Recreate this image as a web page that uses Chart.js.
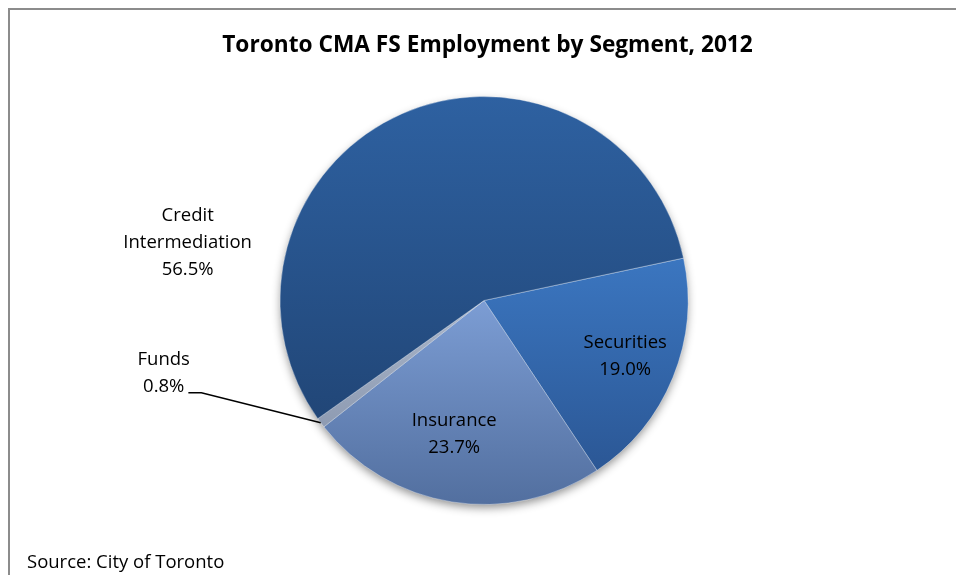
<!DOCTYPE html>
<html>
<head>
<meta charset="utf-8">
<script src="https://cdn.jsdelivr.net/npm/chart.js@4/dist/chart.umd.min.js"></script>
<style>
  html, body { margin: 0; padding: 0; background: #fff; }
  #wrap { position: relative; width: 956px; height: 575px; }
</style>
</head>
<body>
<div id="wrap"><canvas id="fsChart" width="956" height="575"></canvas></div>
<script>
// segments, clockwise from the Securities slice
const segments = ["Securities", "Insurance", "Funds", "Credit Intermediation"];
const shares = [19.0, 23.7, 0.8, 56.5];

const FONT = "'Open Sans', Lato, sans-serif";
const ROTATION = 78;

// top/bottom colours of each slice's vertical gradient
const sliceColors = [
  ["#3b76c0", "#2b5795"],
  ["#7c9dd4", "#526f9f"],
  ["#aab6ca", "#8e9bb2"],
  ["#2e61a1", "#214677"],
];

// vertical extent of slice i, worked out from the chart area and the shares
function sliceSpan(area, i) {
  const cy = (area.top + area.bottom) / 2;
  const r = Math.min(area.width, area.height) / 2;
  const total = shares.reduce((s, v) => s + v, 0);
  const before = shares.slice(0, i).reduce((s, v) => s + v, 0);
  const a0 = (ROTATION - 90) * Math.PI / 180 + before / total * Math.PI * 2;
  const a1 = a0 + shares[i] / total * Math.PI * 2;
  let top = cy, bottom = cy;
  for (let k = 0; k <= 40; k++) {
    const y = cy + Math.sin(a0 + (a1 - a0) * k / 40) * r;
    top = Math.min(top, y);
    bottom = Math.max(bottom, y);
  }
  return [top, bottom];
}

function sliceFill(context) {
  const chart = context.chart;
  const area = chart.chartArea;
  const i = context.dataIndex;
  if (!area) return sliceColors[i][0];
  const [top, bottom] = sliceSpan(area, i);
  const g = chart.ctx.createLinearGradient(0, top, 0, bottom);
  g.addColorStop(0, sliceColors[i][0]);
  g.addColorStop(1, sliceColors[i][1]);
  return g;
}

// where each label sits: angle (deg, canvas coords) and distance in radii
const labelSpots = [
  { a: 21.7, r: 0.745 },
  { a: 102.6, r: 0.67 },
  { a: 167.2, r: 1.61 },
  { a: 191, r: 1.48 },
];

const frameAndText = {
  id: "frameAndText",
  beforeDraw(chart) {
    const c = chart.ctx;
    c.save();
    c.fillStyle = "#fff";
    c.fillRect(0, 0, chart.width, chart.height);
    c.strokeStyle = "#8c8c8c";
    c.lineWidth = 2;
    c.beginPath();
    c.moveTo(9, chart.height + 2);
    c.lineTo(9, 9);
    c.lineTo(chart.width + 2, 9);
    c.stroke();
    c.fillStyle = "#000";
    c.textAlign = "center";
    c.textBaseline = "middle";
    c.font = "bold 22.7px " + FONT;
    c.fillText("Toronto CMA FS Employment by Segment, 2012", 487.5, 46);
    c.textAlign = "left";
    c.font = "18.5px " + FONT;
    c.fillText("Source: City of Toronto", 27, 563);
    c.restore();
  },
  beforeDatasetsDraw(chart) {
    // soft drop shadow under the pie
    const arc = chart.getDatasetMeta(0).data[0];
    const c = chart.ctx;
    c.save();
    c.shadowColor = "rgba(0,0,0,0.45)";
    c.shadowBlur = 10;
    c.shadowOffsetY = 4;
    c.fillStyle = "#2a558c";
    c.beginPath();
    c.arc(arc.x, arc.y, arc.outerRadius - 1, 0, Math.PI * 2);
    c.fill();
    c.restore();
  },
  afterDatasetsDraw(chart) {
    const meta = chart.getDatasetMeta(0);
    const c = chart.ctx;
    c.save();
    c.fillStyle = "#000";
    c.textAlign = "center";
    c.textBaseline = "middle";
    c.font = "18.5px " + FONT;
    meta.data.forEach((arc, i) => {
      const spot = labelSpots[i];
      const ang = spot.a * Math.PI / 180;
      const x = arc.x + Math.cos(ang) * arc.outerRadius * spot.r;
      const y = arc.y + Math.sin(ang) * arc.outerRadius * spot.r;
      const lines = segments[i] === "Credit Intermediation"
        ? ["Credit", "Intermediation"] : [segments[i]];
      lines.push(shares[i].toFixed(1) + "%");
      const lh = 27;
      const y0 = y - (lines.length - 1) * lh / 2;
      lines.forEach((t, k) => c.fillText(t, x, y0 + k * lh));
      if (segments[i] === "Funds") {
        // leader line from the label to the thin slice
        const mid = (arc.startAngle + arc.endAngle) / 2;
        const ex = arc.x + Math.cos(mid) * arc.outerRadius;
        const ey = arc.y + Math.sin(mid) * arc.outerRadius;
        const w = c.measureText(lines[1]).width;
        const lx = x + w / 2 + 4;
        const ly = y0 + lh + 6;
        c.strokeStyle = "#000";
        c.lineWidth = 1.5;
        c.beginPath();
        c.moveTo(lx, ly);
        c.lineTo(lx + 13, ly);
        c.lineTo(ex, ey);
        c.stroke();
      }
    });
    c.restore();
  },
};

const ctx = document.getElementById("fsChart").getContext("2d");
const chart = new Chart(ctx, {
  type: "pie",
  data: {
    labels: segments,
    datasets: [{
      data: shares,
      backgroundColor: sliceFill,
      borderColor: "rgba(255,255,255,0.35)",
      borderWidth: 1,
    }],
  },
  options: {
    responsive: false,
    animation: false,
    rotation: ROTATION,
    layout: { padding: { top: 96, bottom: 70, left: 12, right: 0 } },
    plugins: {
      legend: { display: false },
      tooltip: { enabled: false },
      title: { display: false },
    },
  },
  plugins: [frameAndText],
});
</script>
</body>
</html>
